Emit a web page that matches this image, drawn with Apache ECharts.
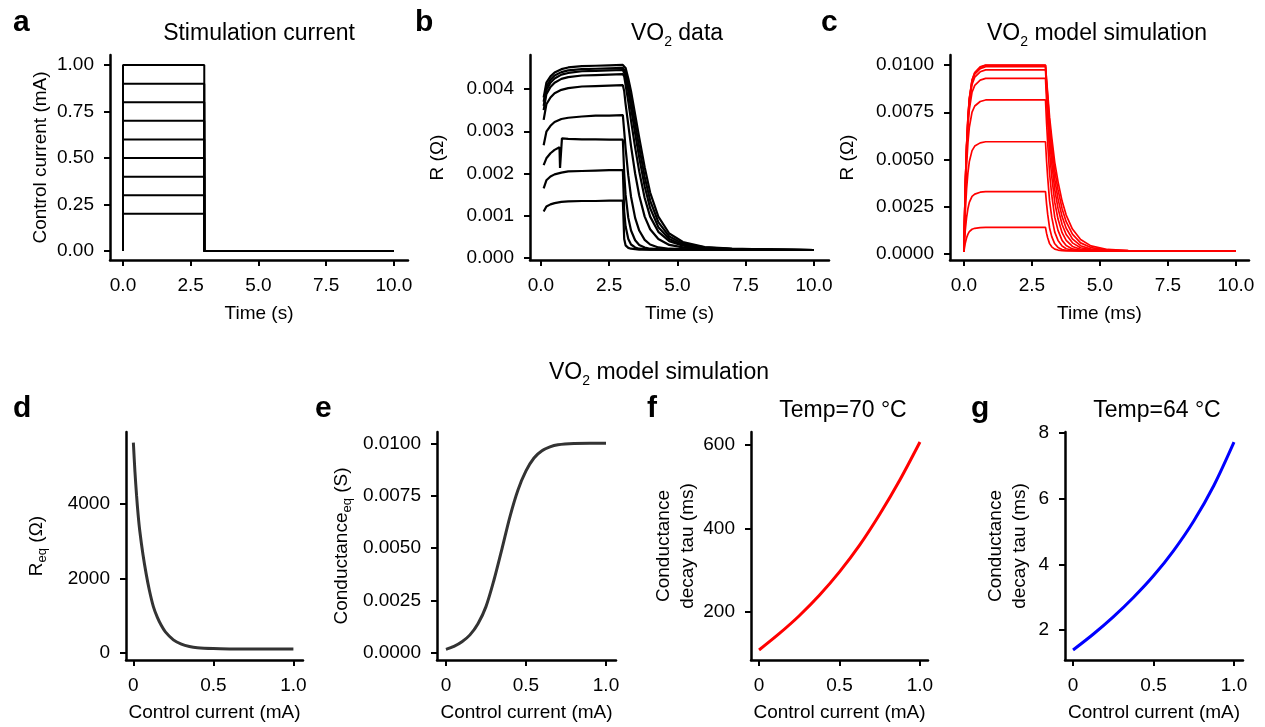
<!DOCTYPE html>
<html>
<head>
<meta charset="utf-8">
<script src="https://cdn.jsdelivr.net/npm/echarts@6/dist/echarts.min.js"></script>
<style>
html,body{margin:0;padding:0;background:#fff;}
#chart{width:1265px;height:727px;}
</style>
</head>
<body>
<div id="chart"></div>
<script>
// ---------------- DATA ----------------
// (a) stimulation current steps
const stimLevels = [0.2, 0.3, 0.4, 0.5, 0.6, 0.7, 0.8, 0.9, 1.0];
const stimTimes = [0, 0, 3, 3, 10];

// (b) VO2 measured traces (time in s)
const vo2Time = [0.1,0.2,0.35,0.5,0.75,1,1.5,2,2.5,3,3.05,3.1,3.2,3.3,3.45,3.6,3.8,4,4.3,4.7,5.2,6,7,8.5,10];
const vo2R1 = [0.0011,0.00122,0.00127,0.0013,0.00133,0.00134,0.00135,0.00135,0.00136,0.00136,
  0.00045,0.0003,0.00024,0.00022,0.00021,0.0002,0.0002,0.0002,0.0002,0.0002,0.0002,0.0002,0.00019,0.00019,0.00019];
const vo2R2 = [0.00165,0.00184,0.00193,0.00198,0.00202,0.00205,0.00206,0.00207,0.00208,0.00208,
  0.0011,0.00075,0.00045,0.00032,0.00025,0.00022,0.00021,0.0002,0.0002,0.0002,0.0002,0.0002,0.00019,0.00019,0.00019];
const vo2Time3 = [0.1,0.2,0.35,0.5,0.68,0.7,0.75,0.77,1,1.5,2,2.5,3,3.05,3.1,3.2,3.3,3.45,3.6,3.8,4,4.3,4.7,5.2,6,7,8.5,10];
const vo2R3 = [0.0022,0.00236,0.00248,0.00256,0.00262,0.00213,0.00215,0.00283,0.00282,0.00281,0.00281,0.0028,0.0028,
  0.002,0.0015,0.00095,0.00065,0.00042,0.00031,0.00025,0.00022,0.00021,0.0002,0.0002,0.0002,0.00019,0.00019,0.00019];
const vo2R4 = [0.00267,0.00299,0.00313,0.00322,0.00329,0.00332,0.00335,0.00337,0.00337,0.00338,
  0.003,0.0026,0.00195,0.00145,0.00095,0.00065,0.00043,0.00032,0.00025,0.00022,0.00021,0.0002,0.0002,0.00019,0.00019];
const vo2R5 = [0.00327,0.00364,0.0038,0.0039,0.00398,0.00402,0.00406,0.00407,0.00408,0.00409,
  0.00395,0.00365,0.00315,0.00265,0.002,0.00148,0.00098,0.00068,0.00045,0.00031,0.00025,0.00022,0.0002,0.0002,0.00019];
const vo2R6 = [0.0035,0.00388,0.00405,0.00415,0.00424,0.00428,0.00432,0.00433,0.00434,0.00435,
  0.0043,0.0041,0.0037,0.00325,0.00262,0.00205,0.00142,0.00098,0.00062,0.0004,0.00029,0.00023,0.00021,0.0002,0.00019];
const vo2R7 = [0.0036,0.00398,0.00415,0.00425,0.00434,0.00438,0.00442,0.00443,0.00444,0.00445,
  0.00445,0.0043,0.00395,0.00355,0.00295,0.00238,0.0017,0.00118,0.00073,0.00045,0.00031,0.00024,0.00021,0.0002,0.00019];
const vo2R8 = [0.0037,0.00406,0.00422,0.00432,0.0044,0.00444,0.00447,0.00448,0.00449,0.0045,
  0.00452,0.0044,0.0041,0.00375,0.00318,0.00262,0.00192,0.00136,0.00085,0.00051,0.00034,0.00025,0.00021,0.0002,0.00019];
const vo2R9 = [0.0038,0.00415,0.0043,0.00439,0.00447,0.00451,0.00454,0.00455,0.00456,0.00457,
  0.0046,0.0045,0.00425,0.00395,0.0034,0.00285,0.00215,0.00155,0.00098,0.00058,0.00038,0.00026,0.00022,0.0002,0.00019];

// (c) VO2 model simulation traces (time in ms)
const simTime = [0,0.05,0.1,0.15,0.2,0.3,0.4,0.6,0.8,3.0,
  3.04,3.08,3.15,3.23,3.34,3.46,3.61,3.76,3.99,4.29,4.67,5.28,6.04,7.18,8.32,10.0];
const simR1 = [0.00012,0.00057,0.00086,0.00105,0.00118,0.00131,0.00136,0.0014,0.00141,0.00141,
  0.00109,0.00086,0.00055,0.00038,0.00026,0.00021,0.00018,0.00017,0.00017,0.00017,0.00017,0.00017,0.00017,0.00017,0.00017,0.00017];
const simR2 = [0.00012,0.00123,0.00193,0.00241,0.00273,0.00305,0.00317,0.00327,0.0033,0.0033,
  0.00264,0.00211,0.00138,0.00092,0.00054,0.00035,0.00024,0.0002,0.00018,0.00017,0.00017,0.00017,0.00017,0.00017,0.00017,0.00017];
const simR3 = [0.00012,0.00216,0.00344,0.00431,0.00489,0.00547,0.00571,0.00588,0.00594,0.00594,
  0.00491,0.00407,0.00281,0.00195,0.00116,0.00072,0.00042,0.00028,0.00021,0.00018,0.00017,0.00017,0.00017,0.00017,0.00017,0.00017];
const simR4 = [0.00012,0.00293,0.0047,0.0059,0.0067,0.00751,0.00783,0.00807,0.00815,0.00815,
  0.00692,0.00589,0.00426,0.00311,0.00195,0.00125,0.00072,0.00045,0.00027,0.0002,0.00018,0.00017,0.00017,0.00017,0.00017,0.00017];
const simR5 = [0.00012,0.00333,0.00535,0.00672,0.00764,0.00856,0.00892,0.0092,0.00929,0.00929,
  0.0081,0.00705,0.00536,0.00409,0.00274,0.00185,0.00113,0.00072,0.0004,0.00025,0.00019,0.00017,0.00017,0.00017,0.00017,0.00017];
const simR6 = [0.00012,0.00349,0.0056,0.00705,0.00801,0.00897,0.00936,0.00964,0.00974,0.00974,
  0.00865,0.00769,0.00608,0.00481,0.00341,0.00242,0.00156,0.00103,0.00059,0.00033,0.00022,0.00018,0.00017,0.00017,0.00017,0.00017];
const simR7 = [0.00012,0.00355,0.0057,0.00717,0.00815,0.00913,0.00952,0.00981,0.00991,0.00991,
  0.00894,0.00806,0.00656,0.00535,0.00395,0.00292,0.00198,0.00136,0.0008,0.00044,0.00026,0.00019,0.00017,0.00017,0.00017,0.00017];
const simR8 = [0.00012,0.00357,0.00574,0.00722,0.00821,0.00919,0.00959,0.00988,0.00998,0.00998,
  0.00911,0.00832,0.00694,0.0058,0.00443,0.0034,0.0024,0.00171,0.00105,0.00059,0.00034,0.00021,0.00018,0.00017,0.00017,0.00017];
const simR9 = [0.00012,0.00358,0.00575,0.00723,0.00822,0.00921,0.0096,0.0099,0.01,0.01,
  0.00922,0.00851,0.00724,0.00617,0.00485,0.00383,0.0028,0.00206,0.00132,0.00077,0.00043,0.00024,0.00018,0.00017,0.00017,0.00017];

// (d) equivalent resistance vs control current
const ctrlD = [0,0.01,0.02,0.03,0.04,0.06,0.08,0.10,0.125,0.15,0.175,0.2,0.25,0.3,0.35,0.4,0.5,0.6,0.75,1.0];
const reqD  = [5650,4860,4230,3700,3280,2640,2120,1680,1240,950,730,560,345,230,165,132,110,102,100,100];

// (e) equivalent conductance vs control current
const ctrlE = [0,0.05,0.1,0.15,0.2,0.25,0.3,0.35,0.4,0.45,0.5,0.55,0.6,0.65,0.7,0.8,0.9,1.0];
const condE = [0.00016,0.0003,0.00052,0.00085,0.00138,0.0022,0.00347,0.00496,0.0065,0.00777,0.00868,0.0093,0.00964,0.00983,0.00993,0.00999,0.01,0.01];

// (f, g) conductance decay tau vs control current
const ctrlTau = [0,0.125,0.25,0.375,0.5,0.625,0.75,0.875,1.0];
const tau70 = [109,148,191,240,296,360,434,516,607];
const tau64 = [1.39,1.87,2.40,2.99,3.65,4.42,5.32,6.40,7.72];

// tick labels
const timeTicks = [0, 2.5, 5, 7.5, 10];
const ctrlTicks = [0, 0.5, 1];
const stimTicks = [0, 0.25, 0.5, 0.75, 1];
const vo2Ticks = [0, 0.001, 0.002, 0.003, 0.004];
const simTicks = [0, 0.0025, 0.005, 0.0075, 0.01];
const reqTicks = [0, 2000, 4000];
const condTicks = [0, 0.0025, 0.005, 0.0075, 0.01];
const tau70Ticks = [200, 400, 600];
const tau64Ticks = [2, 4, 6, 8];

// ---------------- CHART ----------------
const FONT = '"Liberation Sans", Arial, Helvetica, sans-serif';
const zip = (xs, ys) => xs.map((x, i) => [x, ys[i]]);

const grids = [
  {left:110, top:55, width:298, height:205},
  {left:530, top:55, width:299, height:205},
  {left:950, top:55, width:299, height:205},
  {left:126, top:432, width:177, height:228},
  {left:437, top:432, width:179, height:228},
  {left:751, top:432, width:177, height:228},
  {left:1065, top:432, width:178, height:228}
].map(g => Object.assign({outerBoundsMode:'none', containLabel:false}, g));

const subRich = {s:{fontSize:13, lineHeight:8, verticalAlign:'bottom', color:'#000', fontFamily:FONT}};

function axis(kind, gi, min, max, ticks, fmt, name, gap) {
  const a = {
    type:'value', gridIndex:gi, min:min, max:max,
    axisLine:{show:true, onZero:false, lineStyle:{color:'#000', width:2.5}},
    axisTick:{show:true, length:6, inside:false, customValues:ticks, lineStyle:{color:'#000', width:2}},
    axisLabel:{show:true, customValues:ticks, formatter:fmt, color:'#000', fontSize:19, fontFamily:FONT, margin:16},
    splitLine:{show:false},
    name:name, nameLocation:'middle', nameGap:gap,
    nameTextStyle:{color:'#000', fontSize:19, fontFamily:FONT, lineHeight:24, rich:subRich}
  };
  if (kind === 'y') a.nameRotate = 90;
  return a;
}
const f1 = v => v.toFixed(1);
const fc = v => (v === 0 ? '0' : v.toFixed(1));
const f2 = v => v.toFixed(2);
const f3 = v => v.toFixed(3);
const f4 = v => v.toFixed(4);
const f0 = v => String(v);

const xAxes = [
  axis('x',0,-0.48,10.52,timeTicks,f1,'Time (s)',42),
  axis('x',1,-0.40,10.55,timeTicks,f1,'Time (s)',42),
  axis('x',2,-0.51,10.48,timeTicks,f1,'Time (ms)',42),
  axis('x',3,-0.046,1.06,ctrlTicks,fc,'Control current (mA)',41),
  axis('x',4,-0.056,1.0625,ctrlTicks,fc,'Control current (mA)',41),
  axis('x',5,-0.05,1.05,ctrlTicks,fc,'Control current (mA)',41),
  axis('x',6,-0.05,1.056,ctrlTicks,fc,'Control current (mA)',41)
];
const yAxes = [
  axis('y',0,-0.048,1.054,stimTicks,f2,'Control current (mA)',57),
  axis('y',1,-0.000047,0.004805,vo2Ticks,f3,'R (Ω)',80),
  axis('y',2,-0.000317,0.010529,simTicks,f4,'R (Ω)',90),
  axis('y',3,-196,5936,reqTicks,f0,'R{s|eq} (Ω)',77),
  axis('y',4,-0.00035,0.01054,condTicks,f4,'Conductance{s|eq} (S)',83),
  axis('y',5,85,631,tau70Ticks,f0,'Conductance\ndecay tau (ms)',50),
  axis('y',6,1.086,8.03,tau64Ticks,f0,'Conductance\ndecay tau (ms)',33)
];

function line(gi, data, color, width) {
  return {type:'line', xAxisIndex:gi, yAxisIndex:gi, data:data, showSymbol:false, symbol:'none',
    silent:true, animation:false, clip:false, lineStyle:{color:color, width:width}, z:3};
}

const series = [];
stimLevels.forEach(L => series.push(line(0, zip(stimTimes, [0, L, L, 0, 0]), '#000', 2)));
[vo2R1, vo2R2, vo2R4, vo2R5, vo2R6, vo2R7, vo2R8, vo2R9].forEach(r => series.push(line(1, zip(vo2Time, r), '#000', 2.2)));
series.push(line(1, zip(vo2Time3, vo2R3), '#000', 2.2));
[simR1, simR2, simR3, simR4, simR5, simR6, simR7, simR8, simR9].forEach(r => series.push(line(2, zip(simTime, r), '#ff0000', 1.7)));
series.push(Object.assign(line(3, zip(ctrlD, reqD), '#333333', 3), {smooth:0.3}));
series.push(Object.assign(line(4, zip(ctrlE, condE), '#333333', 3), {smooth:0.3}));
series.push(Object.assign(line(5, zip(ctrlTau, tau70), '#ff0000', 3), {smooth:0.3}));
series.push(Object.assign(line(6, zip(ctrlTau, tau64), '#0000ff', 3), {smooth:0.3}));

function title(x, y, text) {
  return {type:'text', x:x, y:y, silent:true, style:{text:text, fill:'#000', fontSize:23, fontFamily:FONT,
    lineHeight:30, align:'center', verticalAlign:'middle',
    rich:{s:{fontSize:14, lineHeight:10, verticalAlign:'bottom', fill:'#000', fontFamily:FONT}}}};
}
function letter(x, y, text) {
  return {type:'text', x:x, y:y, silent:true, style:{text:text, fill:'#000', fontSize:30, fontWeight:'bold',
    fontFamily:FONT, align:'left', verticalAlign:'middle'}};
}

const graphic = [
  title(259, 34, 'Stimulation current'),
  title(677, 34, 'VO{s|2} data'),
  title(1097, 34, 'VO{s|2} model simulation'),
  title(659, 373, 'VO{s|2} model simulation'),
  title(843, 411, 'Temp=70 °C'),
  title(1157, 411, 'Temp=64 °C'),
  letter(13, 23, 'a'), letter(415, 23, 'b'), letter(821, 23, 'c'),
  letter(13, 409, 'd'), letter(315, 409, 'e'), letter(647, 409, 'f'), letter(971, 409, 'g')
];

const chart = echarts.init(document.getElementById('chart'), null, {renderer:'canvas'});
chart.setOption({
  animation:false,
  backgroundColor:'#fff',
  textStyle:{fontFamily:FONT},
  grid:grids, xAxis:xAxes, yAxis:yAxes, series:series, graphic:graphic
});
</script>
</body>
</html>
